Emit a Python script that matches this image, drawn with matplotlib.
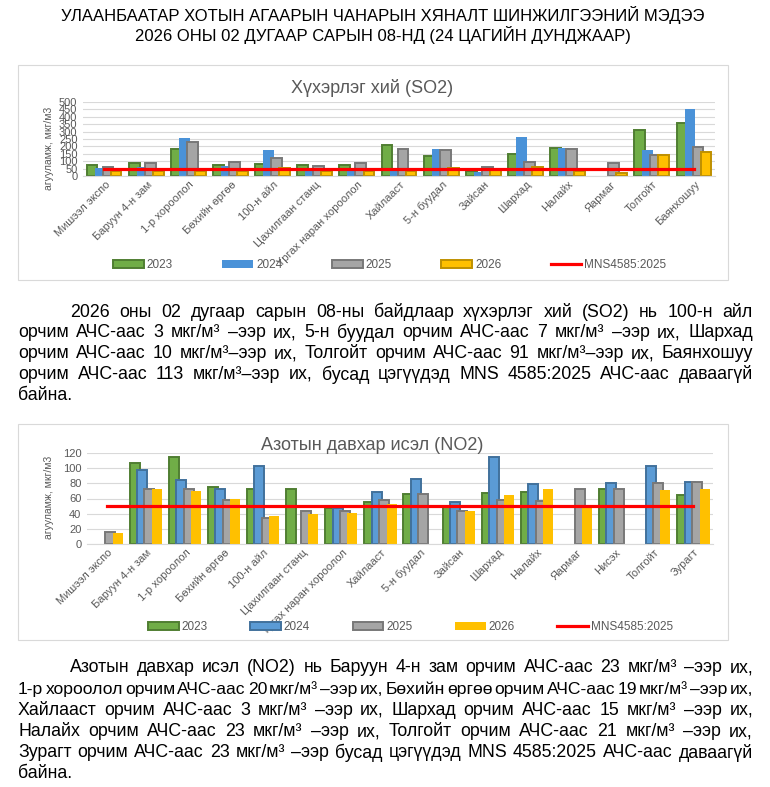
import numpy as np
import matplotlib
matplotlib.use('Agg')
import matplotlib.pyplot as plt
from matplotlib.font_manager import FontProperties
from matplotlib.patches import Rectangle

# --- data ---
so2_sites = ['Мишээл экспо', 'Баруун 4-н зам', '1-р хороолол', 'Бөхийн өргөө', '100-н айл',
             'Цахилгаан станц', 'Үргах наран хороолол', 'Хайлааст', '5-н буудал', 'Зайсан',
             'Шархад', 'Налайх', 'Яармаг', 'Толгойт', 'Баянхошуу']
so2_2023 = [72, 85, 182, 72, 81, 74, 74, 209, 135, 34, 146, 187, np.nan, 310, 355]
so2_2024 = [54, 61, 256, 67, 175, 40, 40, 34, 182, 25, 263, 187, np.nan, 175, 452]
so2_2025 = [61, 85, 227, 94, 121, 67, 88, 182, 175, 61, 93, 180, 85, 139, 198]
so2_2026 = [31, 36, 34, 34, 53, 34, 34, 34, 57, 38, 60, 31, 20, 141, 163]
so2_limit = 50

no2_sites = ['Мишээл экспо', 'Баруун 4-н зам', '1-р хороолол', 'Бөхийн өргөө', '100-н айл',
             'Цахилгаан станц', 'Үргах наран хороолол', 'Хайлааст', '5-н буудал', 'Зайсан',
             'Шархад', 'Налайх', 'Яармаг', 'Нисэх', 'Толгойт', 'Зурагт']
no2_2023 = [np.nan, 107, 115, 75, 73, 72, 47, 55, 66, 49, 67, 69, np.nan, 73, np.nan, 64]
no2_2024 = [np.nan, 97, 84, 73, 103, np.nan, 48, 69, 86, 55, 115, 79, np.nan, 81, 103, 82]
no2_2025 = [16, 73, 72, 58, 34, 44, 43, 58, 66, 44, 58, 57, 73, 72, 80, 82]
no2_2026 = [15, 72, 70, 59, 37, 40, 41, 53, np.nan, 44, 65, 73, 49, np.nan, 71, 73]
no2_limit = 50

years = ['2023', '2024', '2025', '2026']
limit_label = 'MNS4585:2025'
ylabel = 'агууламж, мкг/м3'

header = ['УЛААНБААТАР ХОТЫН АГААРЫН ЧАНАРЫН ХЯНАЛТ ШИНЖИЛГЭЭНИЙ МЭДЭЭ',
          '2026 ОНЫ 02 ДУГААР САРЫН 08-НД (24 ЦАГИЙН ДУНДЖААР)']
para1 = ['2026 оны 02 дугаар сарын 08-ны байдлаар хүхэрлэг хий (SO2) нь 100-н айл',
         'орчим АЧС-аас 3 мкг/м³ –ээр их, 5-н буудал орчим АЧС-аас 7 мкг/м³ –ээр их, Шархад',
         'орчим АЧС-аас 10 мкг/м³–ээр их, Толгойт орчим АЧС-аас 91 мкг/м³–ээр их, Баянхошуу',
         'орчим АЧС-аас 113 мкг/м³–ээр их, бусад цэгүүдэд MNS 4585:2025 АЧС-аас даваагүй',
         'байна.']
para2 = ['Азотын давхар исэл (NO2) нь Баруун 4-н зам орчим АЧС-аас 23 мкг/м³ –ээр их,',
         '1-р хороолол орчим АЧС-аас 20 мкг/м³ –ээр их, Бөхийн өргөө орчим АЧС-аас 19 мкг/м³ –ээр их,',
         'Хайлааст орчим АЧС-аас 3 мкг/м³ –ээр их, Шархад орчим АЧС-аас 15 мкг/м³ –ээр их,',
         'Налайх орчим АЧС-аас 23 мкг/м³ –ээр их, Толгойт орчим АЧС-аас 21 мкг/м³ –ээр их,',
         'Зурагт орчим АЧС-аас 23 мкг/м³ –ээр бусад цэгүүдэд MNS 4585:2025 АЧС-аас даваагүй',
         'байна.']

plt.rcParams['font.family'] = ['Liberation Sans', 'DejaVu Sans']

W, H = 770, 787
fig = plt.figure(figsize=(W / 100, H / 100), dpi=100)
renderer = fig.canvas.get_renderer()


def fx(px):
    return px / W


def fy(py):
    return 1 - py / H


def doc_font(size):
    return FontProperties(family=['Liberation Sans', 'DejaVu Sans'], size=size)


# justified document text, word by word; a line that would not fit is shrunk a little
def paragraph(lines, y0, step, x0=18, x1=753, indent=70, size=12.8):
    for i, line in enumerate(lines):
        y = fy(y0 + i * step)
        left = indent if i == 0 else x0
        words = line.split(' ')
        last = i == len(lines) - 1
        fs = size
        while True:
            texts = [fig.text(0, y, w, fontproperties=doc_font(fs), va='center', ha='left')
                     for w in words]
            widths = [t.get_window_extent(renderer).width for t in texts]
            if last or len(words) == 1:
                gap = 0.28 * fs * 100 / 72
                break
            gap = (x1 - left - sum(widths)) / (len(words) - 1)
            if gap >= 2.0 or fs < 8:
                break
            for t in texts:
                t.remove()
            fs -= 0.1
        x = left
        for t, w in zip(texts, widths):
            t.set_x(fx(x))
            x += w + gap


def bar_chart(rect, sites, series, styles, limit, ymax, ystep, title, title_xy,
              legend_xy, colspace, box):
    fig.add_artist(Rectangle((fx(box[0]), fy(box[3])), fx(box[2]) - fx(box[0]), fy(box[1]) - fy(box[3]),
                             transform=fig.transFigure, fill=False, ec='#D9D9D9', lw=0.8))
    ax = fig.add_axes(rect)
    x = np.arange(len(sites))
    offsets = [-0.285, -0.095, 0.095, 0.285]
    for vals, off, lab, st in zip(series, offsets, years, styles):
        ax.bar(x + off, vals, width=0.255, label=lab, **st)
    ax.plot(x, np.full(len(x), limit), color='#FF0000', lw=2.3, label=limit_label, zorder=5)

    ax.set_xlim(-0.5, len(sites) - 0.5)
    ax.set_ylim(0, ymax)
    ax.set_yticks(np.arange(0, ymax + 1, ystep))
    ax.grid(axis='y', color='#D9D9D9', lw=0.8)
    ax.set_axisbelow(True)
    for s in ['left', 'right', 'top']:
        ax.spines[s].set_visible(False)
    ax.spines['bottom'].set_color('#D9D9D9')
    ax.tick_params(length=0, colors='#595959', labelsize=8)
    ax.tick_params(axis='y', pad=4)
    ax.tick_params(axis='x', pad=5, labelsize=8)
    ax.set_xticks(x + 0.1)
    ax.set_xticklabels(sites, rotation=45, ha='right', va='center', rotation_mode='anchor')

    fig.text(fx(title_xy[0]), fy(title_xy[1]), title, fontsize=13, color='#595959',
             ha='center', va='center')
    handles, labels = ax.get_legend_handles_labels()
    order = [labels.index(l) for l in years + [limit_label]]
    ax.legend([handles[k] for k in order], [labels[k] for k in order],
              loc='center left', bbox_to_anchor=(fx(legend_xy[0]), fy(legend_xy[1])),
              bbox_transform=fig.transFigure, ncol=5, frameon=False, fontsize=8.5,
              handlelength=2.6, handleheight=0.6, columnspacing=colspace, handletextpad=0.25,
              borderpad=0, borderaxespad=0, labelcolor='#595959')
    return ax


# --- header ---
fig.text(0.497, fy(15), header[0], fontproperties=doc_font(12), ha='center', va='center')
fig.text(0.497, fy(35), header[1], fontproperties=doc_font(12), ha='center', va='center')

# --- SO2 chart ---
so2_styles = [dict(color='#70AD47', edgecolor='#507E32', linewidth=1.4),
              dict(color='#4A92D8', edgecolor='none'),
              dict(color='#A5A5A5', edgecolor='#787878', linewidth=1.4),
              dict(color='#FFC000', edgecolor='#BF9000', linewidth=1.4)]
bar_chart([fx(83), fy(176), fx(715) - fx(83), fy(102) - fy(176)], so2_sites,
          [so2_2023, so2_2024, so2_2025, so2_2026], so2_styles, so2_limit, 500, 50,
          'Хүхэрлэг хий (SO2)', (372, 88), (113, 265), 4.2, (18, 65, 728, 280))
fig.text(fx(49), fy(148), ylabel, rotation=90, fontsize=7.5, color='#595959', ha='center', va='center')

paragraph(para1, 312, 20.8)

# --- NO2 chart ---
no2_styles = [dict(color='#70AD47', edgecolor='#507E32', linewidth=1.4),
              dict(color='#5B9BD5', edgecolor='#41719C', linewidth=1.4),
              dict(color='#A5A5A5', edgecolor='#787878', linewidth=1.4),
              dict(color='#FFC000', edgecolor='none')]
bar_chart([fx(87), fy(544), fx(713) - fx(87), fy(453) - fy(544)], no2_sites,
          [no2_2023, no2_2024, no2_2025, no2_2026], no2_styles, no2_limit, 120, 20,
          'Азотын давхар исэл (NO2)', (372, 445), (148, 627), 3.6, (18, 424, 728, 640))
fig.text(fx(49), fy(497), ylabel, rotation=90, fontsize=7.5, color='#595959', ha='center', va='center')

paragraph(para2, 668, 21.2)

fig.savefig('out.png', dpi=100)
